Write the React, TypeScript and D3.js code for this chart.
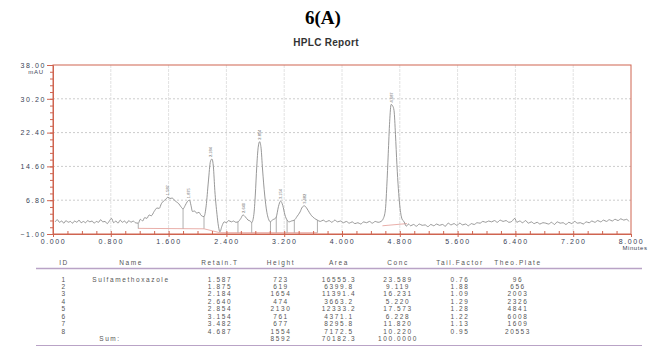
import * as d3 from "d3";
import { useRef, useEffect } from "react";

// axis ticks as printed by the instrument
const yTicks = [-1.0, 6.8, 14.6, 22.4, 30.2, 38.0];
const xTicks = [0, 0.8, 1.6, 2.4, 3.2, 4.0, 4.8, 5.6, 6.4, 7.2, 8.0];

// detector trace: [minutes, mAU]
const trace: [number, number][] = [
  [0.03, 1.8], [0.06, 2.3], [0.09, 1.7], [0.12, 2.0], [0.15, 1.5], [0.18, 2.1], [0.21, 1.7], [0.24, 1.9],
  [0.27, 1.5], [0.30, 2.0], [0.33, 1.7], [0.36, 2.2], [0.39, 1.6], [0.42, 1.9], [0.45, 1.6], [0.48, 2.1],
  [0.51, 1.8], [0.54, 2.0], [0.57, 1.5], [0.60, 1.9], [0.63, 1.7], [0.66, 2.3], [0.69, 1.8], [0.72, 1.9],
  [0.75, 1.4], [0.78, 2.0], [0.81, 2.6], [0.84, 1.6], [0.87, 2.0], [0.90, 1.5], [0.93, 2.2], [0.96, 1.7],
  [0.99, 2.0], [1.02, 1.5], [1.05, 2.1], [1.08, 1.7], [1.11, 2.0], [1.14, 1.6], [1.18, 1.5],
  [1.21, 2.4], [1.24, 2.0], [1.27, 2.8], [1.30, 2.6], [1.33, 3.4], [1.36, 3.2], [1.40, 4.2], [1.44, 5.0],
  [1.47, 4.9], [1.50, 6.0], [1.53, 6.6], [1.56, 7.0], [1.59, 7.5], [1.62, 7.2], [1.65, 7.3], [1.68, 6.8],
  [1.71, 6.4], [1.74, 6.0], [1.77, 5.3], [1.80, 4.8], [1.83, 5.6], [1.86, 6.5], [1.89, 6.8], [1.91, 5.6],
  [1.93, 4.2], [1.96, 4.3], [1.99, 3.8], [2.02, 4.0], [2.05, 3.3], [2.09, 3.0], [2.12, 5.5], [2.15, 11.0],
  [2.18, 15.8], [2.20, 16.3], [2.22, 14.5], [2.24, 9.0], [2.27, 3.5], [2.29, 0.8], [2.31, -0.5], [2.34, 0.9],
  [2.37, 1.8], [2.40, 1.6], [2.43, 2.1], [2.47, 1.8], [2.50, 2.0], [2.53, 1.7], [2.56, 1.8], [2.60, 2.6],
  [2.63, 3.4], [2.66, 3.0], [2.70, 2.2], [2.73, 2.0], [2.75, 1.6], [2.78, 3.5], [2.80, 8.0], [2.82, 14.5],
  [2.84, 19.0], [2.86, 20.3], [2.88, 18.8], [2.90, 14.0], [2.93, 8.0], [2.96, 4.0], [2.98, 2.6], [3.01, 1.8],
  [3.04, 2.3], [3.07, 2.5], [3.09, 2.9], [3.12, 5.3], [3.15, 6.6], [3.18, 5.6], [3.21, 3.4], [3.24, 2.2],
  [3.27, 1.8], [3.30, 2.0], [3.34, 2.2], [3.38, 3.1], [3.42, 4.1], [3.45, 5.2], [3.48, 5.5], [3.51, 5.0],
  [3.55, 3.9], [3.58, 3.2], [3.62, 2.6], [3.66, 2.2], [3.70, 1.9], [3.74, 2.2], [3.78, 1.8], [3.82, 2.1],
  [3.86, 1.7], [3.90, 2.2], [3.94, 1.8], [3.98, 2.0], [4.02, 1.6], [4.06, 1.9], [4.10, 1.5], [4.14, 1.8],
  [4.18, 1.4], [4.22, 1.6], [4.26, 1.3], [4.30, 1.8], [4.34, 1.6], [4.38, 1.9], [4.42, 1.5], [4.46, 1.9],
  [4.50, 1.7], [4.54, 1.9], [4.57, 2.5], [4.60, 4.5], [4.62, 10.0], [4.64, 17.5], [4.66, 25.0], [4.68, 28.9],
  [4.70, 28.6], [4.72, 27.5], [4.74, 22.0], [4.76, 15.0], [4.78, 9.5], [4.80, 5.5], [4.83, 2.5], [4.86, 1.8],
  [4.89, 0.8], [4.92, 1.3], [4.95, 0.9], [4.99, 1.2], [5.03, 0.8], [5.07, 1.3], [5.11, 1.0], [5.15, 1.1],
  [5.19, 0.7], [5.23, 1.2], [5.27, 0.9], [5.31, 1.3], [5.35, 1.0], [5.39, 1.2], [5.43, 0.8], [5.47, 1.5],
  [5.51, 1.1], [5.55, 1.4], [5.59, 1.0], [5.63, 1.5], [5.67, 1.1], [5.71, 1.3], [5.75, 0.9], [5.79, 1.4],
  [5.83, 1.2], [5.87, 1.6], [5.91, 1.5], [5.95, 1.9], [5.99, 1.7], [6.03, 2.0], [6.07, 1.8], [6.11, 2.1],
  [6.15, 1.7], [6.19, 2.2], [6.23, 1.9], [6.27, 2.1], [6.31, 1.7], [6.35, 1.9], [6.39, 2.6], [6.42, 1.7],
  [6.46, 2.0], [6.50, 1.6], [6.54, 2.1], [6.58, 1.5], [6.62, 1.8], [6.66, 1.4], [6.70, 1.7], [6.74, 1.3],
  [6.78, 1.6], [6.82, 1.5], [6.86, 1.3], [6.90, 1.7], [6.94, 1.2], [6.98, 1.8], [7.02, 1.5], [7.06, 1.6],
  [7.10, 1.2], [7.14, 1.7], [7.18, 1.4], [7.22, 1.9], [7.26, 1.5], [7.30, 1.6], [7.34, 1.3], [7.38, 1.8],
  [7.42, 1.6], [7.46, 2.0], [7.50, 1.7], [7.54, 2.1], [7.58, 1.8], [7.62, 2.2], [7.66, 1.9], [7.70, 2.3],
  [7.74, 2.0], [7.78, 2.4], [7.82, 2.1], [7.86, 2.5], [7.90, 2.2], [7.94, 2.4], [7.97, 1.9],
];

// integration marks
const dropTimes = [1.18, 1.80, 2.09, 2.56, 2.75, 3.01, 3.09, 3.24, 3.34, 3.66];
const baselineA: [number, number][] = [[1.18, 0.3], [2.09, 0.2], [2.31, -0.7]];
const baselineB: [number, number][] = [[2.31, -0.7], [3.66, -0.7]];
const baselineC: [number, number][] = [[4.56, 0.9], [4.90, 1.4]];

// results table
const ids = ["1", "2", "3", "4", "5", "6", "7", "8"];
const names = ["Sulfamethoxazole", "", "", "", "", "", "", ""];
const retainT = ["1.587", "1.875", "2.184", "2.640", "2.854", "3.154", "3.482", "4.687"];
const heights = ["723", "619", "1654", "474", "2130", "761", "677", "1554"];
const areas = ["16555.3", "6399.8", "11391.4", "3663.2", "12333.2", "4371.1", "8295.8", "7172.5"];
const concs = ["23.589", "9.119", "16.231", "5.220", "17.573", "6.228", "11.820", "10.220"];
const tailFactors = ["0.76", "1.88", "1.09", "1.29", "1.28", "1.22", "1.13", "0.95"];
const theoPlates = ["96", "656", "2003", "2326", "4841", "6008", "1609", "20553"];
const sumHeight = "8592";
const sumArea = "70182.3";
const sumConc = "100.0000";

export default function App({
  width = 648,
  height = 364,
  marginTop = 65,
  marginLeft = 53,
  plotRight = 631,
  plotBottom = 234,
}) {
  const svgRef = useRef<SVGSVGElement>(null);

  useEffect(() => {
    const svg = d3.select(svgRef.current);
    svg.selectAll("*").remove();

    const font = "'Liberation Sans', Arial, sans-serif";
    const red = "#cf6450";
    const labelColor = "#3a3f55";

    svg.append("text")
      .attr("x", 323).attr("y", 24)
      .attr("text-anchor", "middle")
      .style("font-family", "'Liberation Serif', serif")
      .style("font-weight", "bold")
      .style("font-size", "19px")
      .text("6(A)");

    svg.append("text")
      .attr("x", 326).attr("y", 46)
      .attr("text-anchor", "middle")
      .style("font-family", font)
      .style("font-weight", "bold")
      .style("font-size", "10px")
      .style("letter-spacing", "0.3px")
      .attr("fill", "#333")
      .text("HPLC Report");

    const xScale = d3.scaleLinear().domain([0, 8]).range([marginLeft, plotRight]);
    const yScale = d3.scaleLinear().domain([-1, 38]).range([plotBottom, marginTop]);

    // grid
    svg.append("g")
      .selectAll("line")
      .data(yTicks.slice(1, -1))
      .join("line")
      .attr("x1", marginLeft).attr("x2", plotRight)
      .attr("y1", d => yScale(d)).attr("y2", d => yScale(d))
      .attr("stroke", "#cccccc")
      .attr("stroke-dasharray", "2,2");

    svg.append("g")
      .selectAll("line")
      .data(xTicks.slice(1, -1))
      .join("line")
      .attr("x1", d => xScale(d)).attr("x2", d => xScale(d))
      .attr("y1", marginTop).attr("y2", plotBottom)
      .attr("stroke", "#e2e2e2")
      .attr("stroke-dasharray", "3,1");

    // integration baselines
    const lineFn = d3.line<[number, number]>()
      .x(d => xScale(d[0]))
      .y(d => yScale(d[1]));

    [baselineA, baselineB, baselineC].forEach(b => {
      svg.append("path")
        .datum(b)
        .attr("fill", "none")
        .attr("stroke", "#e7a6a0")
        .attr("stroke-width", 0.9)
        .attr("d", lineFn);
    });

    const valueAt = (t: number) => {
      const i = d3.bisector((d: [number, number]) => d[0]).center(trace, t);
      return trace[i][1];
    };
    const baseAt = (t: number) => {
      if (t < 2.1) return 0.25;
      if (t < 4) return -0.7;
      return 1;
    };

    svg.append("g")
      .selectAll("line")
      .data(dropTimes)
      .join("line")
      .attr("x1", d => xScale(d)).attr("x2", d => xScale(d))
      .attr("y1", d => yScale(valueAt(d)))
      .attr("y2", d => yScale(baseAt(d)))
      .attr("stroke", "#9a9a9a")
      .attr("stroke-width", 0.8);

    // trace
    svg.append("path")
      .datum(trace)
      .attr("fill", "none")
      .attr("stroke", "#8c8c8c")
      .attr("stroke-width", 0.9)
      .attr("d", d3.line<[number, number]>()
        .x(d => xScale(d[0]))
        .y(d => yScale(d[1]))
        .curve(d3.curveMonotoneX));

    // peak labels
    svg.append("g")
      .selectAll("text")
      .data(retainT)
      .join("text")
      .attr("transform", d => {
        const t = +d;
        const top = d3.max(trace.filter(p => Math.abs(p[0] - t) < 0.05), p => p[1]) ?? 0;
        return `translate(${xScale(t) + 1.5},${yScale(top) - 2}) rotate(-90)`;
      })
      .style("font-family", font)
      .style("font-size", "4px")
      .attr("fill", "#666")
      .text(d => d);

    // frame
    svg.append("rect")
      .attr("x", marginLeft).attr("y", marginTop)
      .attr("width", plotRight - marginLeft)
      .attr("height", plotBottom - marginTop)
      .attr("fill", "none")
      .attr("stroke", red);

    // y axis
    const yAxis = svg.append("g")
      .attr("transform", `translate(${marginLeft},0)`)
      .call(d3.axisLeft(yScale).tickValues(yTicks).tickSize(6).tickPadding(1).tickFormat(d3.format(".2f")));
    yAxis.select(".domain").attr("stroke", red);
    yAxis.selectAll("line").attr("stroke", red);
    yAxis.selectAll("text")
      .attr("fill", labelColor)
      .style("font-family", font)
      .style("font-size", "7px")
      .style("letter-spacing", "1.6px");

    const yMinor = svg.append("g")
      .attr("transform", `translate(${marginLeft},0)`)
      .call(d3.axisLeft(yScale).tickValues(d3.range(0, 26).map(i => -1 + i * 1.56)).tickSize(3).tickFormat(() => ""));
    yMinor.select(".domain").remove();
    yMinor.selectAll("line").attr("stroke", red);

    // x axis
    const xAxis = svg.append("g")
      .attr("transform", `translate(0,${plotBottom})`)
      .call(d3.axisBottom(xScale).tickValues(xTicks).tickSize(3).tickPadding(2).tickFormat(d3.format(".3f")));
    xAxis.select(".domain").attr("stroke", red);
    xAxis.selectAll("line").attr("stroke", red);
    xAxis.selectAll("text")
      .attr("fill", labelColor)
      .style("font-family", font)
      .style("font-size", "7px")
      .style("letter-spacing", "1.6px");

    const xMinor = svg.append("g")
      .attr("transform", `translate(0,${plotBottom})`)
      .call(d3.axisBottom(xScale).tickValues(d3.range(0, 40).map(i => i * 0.2)).tickSize(-3).tickFormat(() => ""));
    xMinor.select(".domain").remove();
    xMinor.selectAll("line").attr("stroke", red);

    svg.append("text")
      .attr("x", 36).attr("y", 74)
      .attr("text-anchor", "middle")
      .attr("fill", labelColor)
      .style("font-family", font).style("font-size", "6px")
      .style("letter-spacing", "0.8px")
      .text("mAU");

    svg.append("text")
      .attr("x", plotRight + 4).attr("y", 250)
      .attr("text-anchor", "middle")
      .attr("fill", labelColor)
      .style("font-family", font).style("font-size", "6px")
      .style("letter-spacing", "0.6px")
      .text("Minutes");

    // table
    const tableColor = "#555";
    const lineColor = "#b9a3c6";
    const headerY = 264.5;
    const rowY = (i: number) => 281.5 + i * 7.45;

    const columns = [
      { title: "ID", x: 64, values: ids },
      { title: "Name", x: 131, values: names },
      { title: "Retain.T", x: 220, values: retainT },
      { title: "Height", x: 281, values: heights },
      { title: "Area", x: 339, values: areas },
      { title: "Conc", x: 398, values: concs },
      { title: "Tail.Factor", x: 460, values: tailFactors },
      { title: "Theo.Plate", x: 518, values: theoPlates },
    ];

    const table = svg.append("g")
      .style("font-family", font)
      .style("font-size", "6.5px")
      .style("letter-spacing", "1.6px")
      .attr("fill", tableColor);

    columns.forEach(c => {
      table.append("text")
        .attr("x", c.x).attr("y", headerY)
        .attr("text-anchor", "middle")
        .text(c.title);
      table.selectAll(null)
        .data(c.values)
        .join("text")
        .attr("x", c.x)
        .attr("y", (_d, i) => rowY(i))
        .attr("text-anchor", "middle")
        .text(d => d);
    });

    const sumRow = rowY(8);
    [["Sum:", 110], [sumHeight, 281], [sumArea, 339], [sumConc, 398]].forEach(([t, x]) => {
      table.append("text")
        .attr("x", x).attr("y", sumRow)
        .attr("text-anchor", "middle")
        .text(t as string);
    });

    svg.append("line")
      .attr("x1", 36).attr("x2", 642).attr("y1", 268.5).attr("y2", 268.5)
      .attr("stroke", lineColor).attr("stroke-width", 1.3);
    svg.append("line")
      .attr("x1", 36).attr("x2", 642).attr("y1", 345.5).attr("y2", 345.5)
      .attr("stroke", lineColor).attr("stroke-width", 1);
  }, [width, height, marginTop, marginLeft, plotRight, plotBottom]);

  return (
    <svg
      ref={svgRef}
      width={width}
      height={height}
      style={{ position: "absolute", left: 0, top: 0, background: "#fff" }}
    ></svg>
  );
}
